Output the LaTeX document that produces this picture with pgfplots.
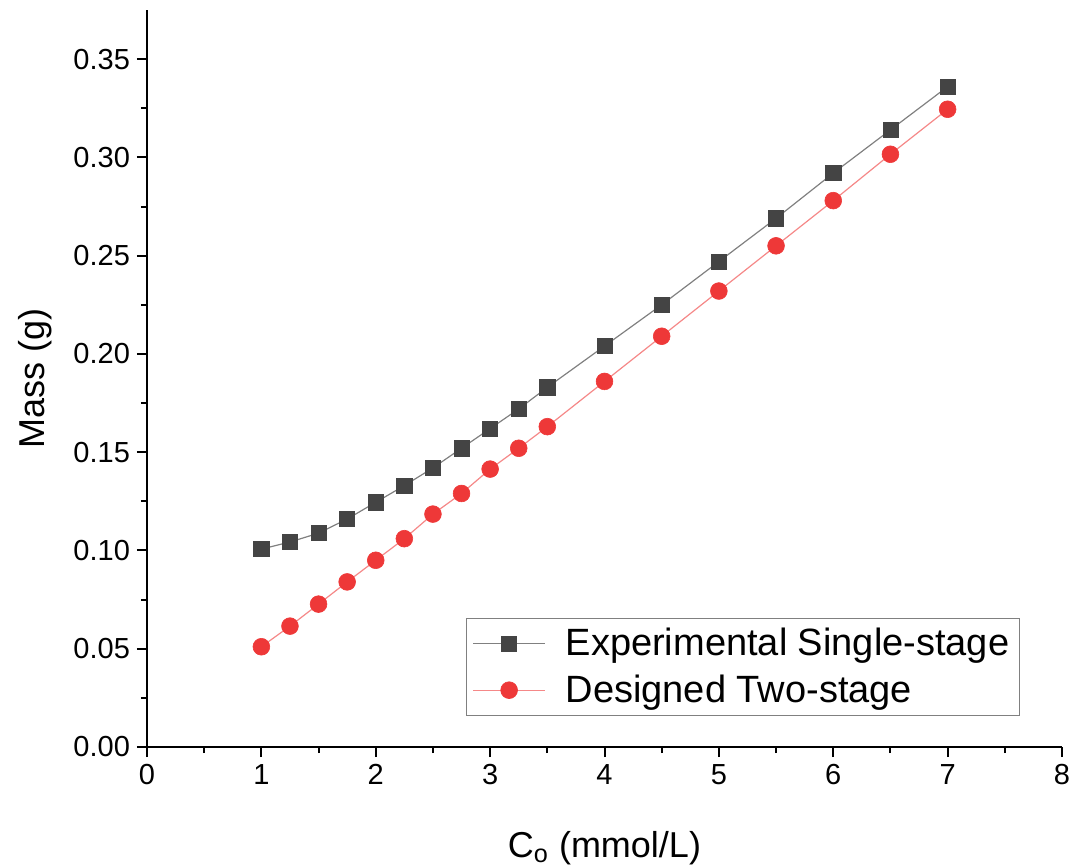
\documentclass[border=0pt]{standalone}
\usepackage{pgfplots}
\pgfplotsset{compat=1.18}
\usepackage{fontspec}
\setmainfont{Liberation Sans}
\definecolor{sqgray}{RGB}{68,68,68}
\definecolor{cred}{RGB}{238,56,56}
\begin{document}
\begin{tikzpicture}
\useasboundingbox (-73.5pt,-59.5pt) rectangle (463.5pt,373.5pt);
\begin{axis}[
  scale only axis,
  width=457.5pt, height=368.5pt,
  xmin=0, xmax=8, ymin=0, ymax=0.375,
  axis x line=bottom, axis y line=left,
  axis line style={-, line width=1pt},
  xtick={0,1,...,8},
  ytick={0,0.05,...,0.35},
  minor x tick num=1, minor y tick num=1,
  tick align=outside,
  major tick length=5pt, minor tick length=3pt,
  every tick/.style={black, line width=1pt},
  /pgf/number format/assume math mode=true,
  yticklabel style={/pgf/number format/.cd, fixed, fixed zerofill, precision=2},
  ticklabel style={font=\fontsize{14.5}{16}\selectfont},
  xlabel={C\textsubscript{o} (mmol/L)},
  ylabel={Mass (g)},
  label style={font=\fontsize{18}{20}\selectfont},
  xlabel style={at={(axis description cs:0.5,-0.137)}, anchor=center},
  ylabel style={at={(axis description cs:-0.122,0.5)}, anchor=center},
  legend style={at={(rel axis cs:0.954,0.042)}, anchor=south east, draw=gray, line width=0.6pt,
    font=\fontsize{19}{23}\selectfont, row sep=4pt, column sep=8pt, inner xsep=3pt, inner ysep=3pt},
  legend cell align=left,
  legend image code/.code={\draw[mark repeat=2,mark phase=2] plot coordinates {(0pt,0pt)(18pt,0pt)(36pt,0pt)};},
]
\addplot[color=gray, line width=0.6pt, mark=square*, mark size=3.8pt, mark options={fill=sqgray, draw=sqgray, line width=0.3pt}]
coordinates {
(1,0.1007)(1.25,0.1043)(1.5,0.1088)(1.75,0.116)(2,0.1245)(2.25,0.133)(2.5,0.142)(2.75,0.152)
(3,0.162)(3.25,0.172)(3.5,0.183)(4,0.204)(4.5,0.225)(5,0.247)(5.5,0.269)(6,0.292)(6.5,0.314)(7,0.336)
};
\addlegendentry{Experimental Single-stage}
\addplot[color=cred!60, line width=0.6pt, mark=*, mark size=4.2pt, mark options={fill=cred, draw=cred, line width=0.3pt}]
coordinates {
(1,0.051)(1.25,0.0615)(1.5,0.0727)(1.75,0.084)(2,0.095)(2.25,0.106)(2.5,0.1185)(2.75,0.129)
(3,0.1414)(3.25,0.152)(3.5,0.163)(4,0.186)(4.5,0.209)(5,0.232)(5.5,0.255)(6,0.278)(6.5,0.3016)(7,0.3245)
};
\addlegendentry{Designed Two-stage}
\end{axis}
\end{tikzpicture}
\end{document}
